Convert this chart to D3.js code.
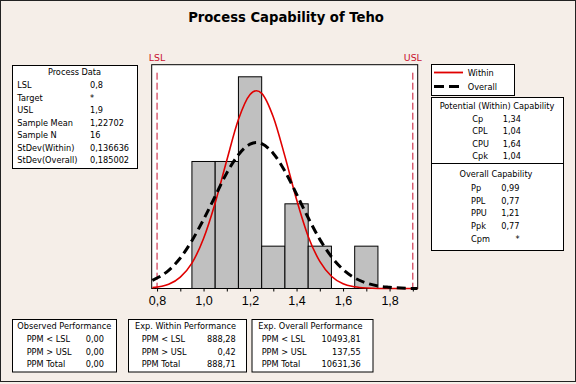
<!DOCTYPE html>
<html>
<head>
<meta charset="utf-8">
<script src="https://cdnjs.cloudflare.com/ajax/libs/d3/7.8.5/d3.min.js"></script>
<style>
body { margin: 0; background: #f5eee8; }
text { font-family: "DejaVu Sans", Verdana, sans-serif; fill: #000; }
</style>
</head>
<body>
<script>
// histogram of the sample
var binMids = [1.0, 1.1, 1.2, 1.3, 1.4, 1.5, 1.6, 1.7];
var binCounts = [3, 3, 5, 1, 2, 1, 0, 1];
var binWidth = 0.1;

// fitted curves (count units)
var curveX = [0.78, 0.85, 0.90, 0.95, 1.00, 1.05, 1.10, 1.15, 1.20, 1.227, 1.25, 1.30, 1.35, 1.40, 1.45, 1.50, 1.55, 1.60, 1.65, 1.70, 1.75, 1.80, 1.85, 1.92];
var withinY = [0.02, 0.10, 0.27, 0.60, 1.18, 2.02, 3.03, 3.99, 4.58, 4.67, 4.61, 4.05, 3.12, 2.10, 1.23, 0.64, 0.29, 0.11, 0.04, 0.01, 0.00, 0.00, 0.00, 0.00];
var overallY = [0.19, 0.43, 0.72, 1.13, 1.63, 2.18, 2.73, 3.16, 3.41, 3.45, 3.42, 3.19, 2.77, 2.23, 1.67, 1.16, 0.75, 0.45, 0.25, 0.13, 0.06, 0.03, 0.01, 0.00];

var specNames = ['LSL', 'USL'];
var specValues = [0.8, 1.9];
var xTicks = [0.8, 0.9, 1.0, 1.1, 1.2, 1.3, 1.4, 1.5, 1.6, 1.7, 1.8, 1.9];
var xLabelTicks = [0.8, 1.0, 1.2, 1.4, 1.6, 1.8];

var processLabels = ['LSL', 'Target', 'USL', 'Sample Mean', 'Sample N', 'StDev(Within)', 'StDev(Overall)'];
var processValues = ['0,8', '*', '1,9', '1,22702', '16', '0,136636', '0,185002'];

var potentialLabels = ['Cp', 'CPL', 'CPU', 'Cpk'];
var potentialValues = ['1,34', '1,04', '1,64', '1,04'];
var overallCapLabels = ['Pp', 'PPL', 'PPU', 'Ppk', 'Cpm'];
var overallCapValues = ['0,99', '0,77', '1,21', '0,77', '*'];

var perfLabels = ['PPM < LSL', 'PPM > USL', 'PPM Total'];
var observedValues = ['0,00', '0,00', '0,00'];
var expWithinValues = ['888,28', '0,42', '888,71'];
var expOverallValues = ['10493,81', '137,55', '10631,36'];

var W = 576, H = 384;
var plot = {left: 151.7, right: 417.7, top: 64.7, bottom: 288.5};
var small = 8.2;

var svg = d3.select('body').append('svg')
  .attr('width', W)
  .attr('height', H);

svg.append('rect')
  .attr('x', 0.5).attr('y', 0.5)
  .attr('width', W - 1).attr('height', 381)
  .attr('fill', '#f5eee8')
  .attr('stroke', '#222');

svg.append('text')
  .attr('x', 286).attr('y', 21.5)
  .attr('text-anchor', 'middle')
  .style('font-size', '13.2px')
  .style('font-weight', 'bold')
  .text('Process Capability of Teho');

var x = d3.scaleLinear().domain([0.777, 1.921]).range([plot.left, plot.right]);
var y = d3.scaleLinear().domain([0, (plot.bottom - plot.top) / 42.34]).range([plot.bottom, plot.top]);

svg.append('rect')
  .attr('x', plot.left).attr('y', plot.top)
  .attr('width', plot.right - plot.left)
  .attr('height', plot.bottom - plot.top)
  .attr('fill', '#fff')
  .attr('stroke', '#000');

svg.append('g')
  .selectAll('rect')
  .data(binMids)
  .enter()
  .append('rect')
  .attr('x', function(d){ return x(d - binWidth / 2); })
  .attr('y', function(d, i){ return y(binCounts[i]); })
  .attr('width', function(d){ return x(d + binWidth / 2) - x(d - binWidth / 2); })
  .attr('height', function(d, i){ return y(0) - y(binCounts[i]); })
  .attr('fill', '#c0c0c0')
  .attr('stroke', '#000')
  .attr('stroke-width', 1)
  .style('display', function(d, i){ return binCounts[i] ? null : 'none'; });

// spec limits
specValues.map(function(v, i){
  svg.append('line')
    .attr('x1', x(v)).attr('x2', x(v))
    .attr('y1', plot.top + 8).attr('y2', plot.bottom)
    .attr('stroke', '#c8102e')
    .attr('stroke-width', 1)
    .attr('stroke-dasharray', '7,3');
  svg.append('text')
    .attr('x', x(v)).attr('y', 60.5)
    .attr('text-anchor', 'middle')
    .style('font-size', '9.4px')
    .style('fill', '#c8102e')
    .text(specNames[i]);
});

var line = d3.line()
  .x(function(d){ return x(d[0]); })
  .y(function(d){ return y(d[1]); })
  .curve(d3.curveMonotoneX);

svg.append('path')
  .datum(curveX.map(function(v, i){ return [v, withinY[i]]; }))
  .attr('d', line)
  .attr('fill', 'none')
  .attr('stroke', '#e00000')
  .attr('stroke-width', 1.6);

svg.append('path')
  .datum(curveX.map(function(v, i){ return [v, overallY[i]]; }))
  .attr('d', line)
  .attr('fill', 'none')
  .attr('stroke', '#000')
  .attr('stroke-width', 3)
  .attr('stroke-dasharray', '9,5');

var axis = d3.axisBottom(x)
  .tickValues(xTicks)
  .tickSize(3)
  .tickPadding(5)
  .tickFormat(function(d){
    var hit = xLabelTicks.some(function(t){ return Math.abs(t - d) < 1e-6; });
    return hit ? d3.format('.1f')(d).replace('.', ',') : '';
  });

var gAxis = svg.append('g')
  .attr('transform', 'translate(0,' + plot.bottom + ')')
  .call(axis);
gAxis.select('.domain').remove();
gAxis.selectAll('text')
  .style('font-family', '"Liberation Sans", Arial, sans-serif')
  .style('font-size', '12.5px')
  .attr('fill', '#000');
gAxis.selectAll('line').attr('stroke', '#000');

function box(x0, y0, x1, y1) {
  svg.append('rect')
    .attr('x', x0 + 0.5).attr('y', y0 + 0.5)
    .attr('width', x1 - x0).attr('height', y1 - y0)
    .attr('fill', '#fff')
    .attr('stroke', '#000');
}

function label(tx, ty, s, anchor) {
  svg.append('text')
    .attr('x', tx).attr('y', ty)
    .attr('text-anchor', anchor || 'start')
    .style('font-size', small + 'px')
    .text(s);
}

// process data
box(12, 65, 137, 168);
label(74.5, 74.8, 'Process Data', 'middle');
processLabels.map(function(s, i){
  label(17.3, 88.2 + i * 12.5, s);
  label(90, 88.2 + i * 12.5, processValues[i]);
});

// legend
box(431, 64, 514, 95);
svg.append('line')
  .attr('x1', 434).attr('x2', 463)
  .attr('y1', 72.5).attr('y2', 72.5)
  .attr('stroke', '#e00000').attr('stroke-width', 1.8);
svg.append('line')
  .attr('x1', 434).attr('x2', 463)
  .attr('y1', 86.5).attr('y2', 86.5)
  .attr('stroke', '#000').attr('stroke-width', 3)
  .attr('stroke-dasharray', '10,5');
label(467.7, 75.8, 'Within');
label(467.7, 89.8, 'Overall');

// capability
box(431, 97, 563, 250);
svg.append('line')
  .attr('x1', 431).attr('x2', 564)
  .attr('y1', 163.5).attr('y2', 163.5)
  .attr('stroke', '#000');
label(497, 109, 'Potential (Within) Capability', 'middle');
potentialLabels.map(function(s, i){
  label(472.3, 121.6 + i * 12.6, s);
  label(521, 121.6 + i * 12.6, potentialValues[i], 'end');
});
label(496, 176.6, 'Overall Capability', 'middle');
overallCapLabels.map(function(s, i){
  label(471, 190.8 + i * 12.7, s);
  label(519.5, 190.8 + i * 12.7, overallCapValues[i], 'end');
});

// performance boxes
var perfBoxes = [
  {x0: 12, x1: 116, title: 'Observed Performance', tx: 17.3, lx: 26.7, vx: 104, vals: observedValues},
  {x0: 128, x1: 246, title: 'Exp. Within Performance', tx: 135, lx: 141.7, vx: 235.7, vals: expWithinValues},
  {x0: 251.5, x1: 372.5, title: 'Exp. Overall Performance', tx: 258.3, lx: 261.7, vx: 360.7, vals: expOverallValues}
];
perfBoxes.map(function(b){
  box(b.x0, 319, b.x1, 371.5);
  label(b.tx, 329, b.title);
  perfLabels.map(function(s, i){
    label(b.lx, 342.3 + i * 12.3, s);
    label(b.vx, 342.3 + i * 12.3, b.vals[i], 'end');
  });
});
</script>
</body>
</html>
